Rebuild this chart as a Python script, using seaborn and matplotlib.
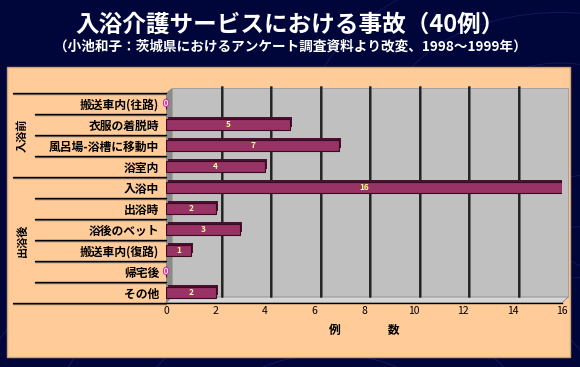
import numpy as np
import matplotlib
matplotlib.use("Agg")
import matplotlib.pyplot as plt
import matplotlib.patheffects as pe
from matplotlib.patches import Rectangle, Polygon, Circle
from matplotlib.transforms import ScaledTranslation, blended_transform_factory
import seaborn as sns

# data
categories = ["搬送車内(往路)", "衣服の着脱時", "風呂場-浴槽に移動中", "浴室内", "入浴中",
              "出浴時", "浴後のベット", "搬送車内(復路)", "帰宅後", "その他"]
counts = [0, 5, 7, 4, 16, 2, 3, 1, 0, 2]
groups = ["入浴前", "出浴後"]
group_sizes = [4, 6]
xticks = [0, 2, 4, 6, 8, 10, 12, 14, 16]

title = "入浴介護サービスにおける事故（40例）"
subtitle = "（小池和子：茨城県におけるアンケート調査資料より改変、1998～1999年）"

sns.set_theme(style="white")
plt.rcParams['font.family'] = ['Noto Sans CJK JP', 'DejaVu Sans']

W, H = 580, 367
fig = plt.figure(figsize=(W / 100, H / 100), dpi=100, facecolor="#00063a")


def px(x, y):
    return (x / W, 1 - y / H)


# faint background arcs
for cx, cy, radii in [(330, 430, [120, 200, 280, 360]), (560, 120, [90, 170, 250])]:
    for r in radii:
        fig.patches.append(Circle(px(cx, cy), r / W, transform=fig.transFigure, fill=False,
                                  edgecolor="#2a3c9a", lw=0.6, alpha=0.4, zorder=-10))

# peach panel
x0, y0 = px(7, 357)
fig.patches.append(Rectangle((x0, y0), 563 / W, 290 / H, transform=fig.transFigure,
                             facecolor="#ffcc99", edgecolor="#c9a27a", lw=1, zorder=-9))
# 3D walls
fig.patches.append(Polygon([px(172, 88), px(568, 88), px(568, 297), px(172, 297)], closed=True,
                           transform=fig.transFigure, facecolor="#c0c0c0", edgecolor="#9a9a9a",
                           lw=0.6, zorder=-8))
fig.patches.append(Polygon([px(166, 93), px(172, 88), px(172, 297), px(166, 303)], closed=True,
                           transform=fig.transFigure, facecolor="#8a8a8a", edgecolor="none", zorder=-7))
fig.patches.append(Polygon([px(166, 303), px(172, 297), px(568, 297), px(562, 303)], closed=True,
                           transform=fig.transFigure, facecolor="#d6d6d6", edgecolor="#8a8a8a",
                           lw=0.6, zorder=-7))

ax = fig.add_axes([166 / W, 1 - 303 / H, 396 / W, 210 / H])
ax.set_facecolor("none")

sns.barplot(x=counts, y=categories, orient="h", color="#993366", width=0.48,
            edgecolor="#3a0a20", linewidth=0.8, saturation=1, ax=ax, zorder=3)
for bar in ax.patches:
    bar.set_path_effects([pe.SimplePatchShadow(offset=(1.5, 1.5), shadow_rgbFace="#4a1030", alpha=1),
                          pe.Normal()])
texts = ax.bar_label(ax.containers[0], label_type="center", color="#ffff99", fontsize=6,
                     fontweight="bold")
for t, v in zip(texts, counts):
    t.set_clip_on(False)
    if v == 0:
        t.set_color("#ffd6f0")
        t.set_path_effects([pe.withStroke(linewidth=1.5, foreground="#cc3399")])

ax.set_xlim(0, 16)
ax.set_ylim(len(categories) - 0.5, -0.5)
ax.set_xticks(xticks)
ax.tick_params(axis="x", length=0, pad=2, labelsize=7.5, colors="black")
ax.tick_params(axis="y", length=0, pad=5)
for lab in ax.get_yticklabels():
    lab.set_fontsize(8.5)
    lab.set_fontweight("bold")
    lab.set_color("black")

# gridlines on the back wall
wall = ax.get_xaxis_transform() + ScaledTranslation(0.06, 0.06, fig.dpi_scale_trans)
for t in xticks[1:-1]:
    ax.plot([t, t], [0, 1], color="#1a1a1a", lw=1.3, transform=wall, clip_on=False, zorder=1,
            path_effects=[pe.SimpleLineShadow(offset=(1, 0), shadow_color="#666666", alpha=1),
                          pe.Normal()])

for s in ["top", "right", "left"]:
    ax.spines[s].set_visible(False)
ax.spines["bottom"].set_color("black")
ax.spines["bottom"].set_linewidth(1)

ax.set_xlabel("例　　　　数", fontsize=8.5, fontweight="bold", color="black", labelpad=6)
ax.set_ylabel("")

# row separators and group labels in the label column
rowtr = blended_transform_factory(ax.transAxes, ax.transData)
short_x = (35 - 166) / 396
long_x = (13 - 166) / 396
bounds = np.cumsum([0] + group_sizes)
for i in range(len(categories) + 1):
    xs = long_x if i in bounds else short_x
    ax.plot([xs, 0], [i - 0.5, i - 0.5], transform=rowtr, color="black", lw=1,
            clip_on=False, zorder=4,
            path_effects=[pe.SimpleLineShadow(offset=(0, -1), shadow_color="#7a6a5a", alpha=1),
                          pe.Normal()])
for g, a, b in zip(groups, bounds[:-1], bounds[1:]):
    ax.text((22 - 166) / 396, (a + b - 1) / 2, g, transform=rowtr, rotation=90,
            ha="center", va="center", fontsize=8, fontweight="bold", color="black")

fig.text(0.5, 1 - 25 / H, title, ha="center", va="center", fontsize=17,
         fontweight="bold", color="white")
fig.text(0.5, 1 - 46 / H, subtitle, ha="center", va="center", fontsize=9.8,
         fontweight="bold", color="white")

fig.savefig("out.png", dpi=100, facecolor=fig.get_facecolor())
